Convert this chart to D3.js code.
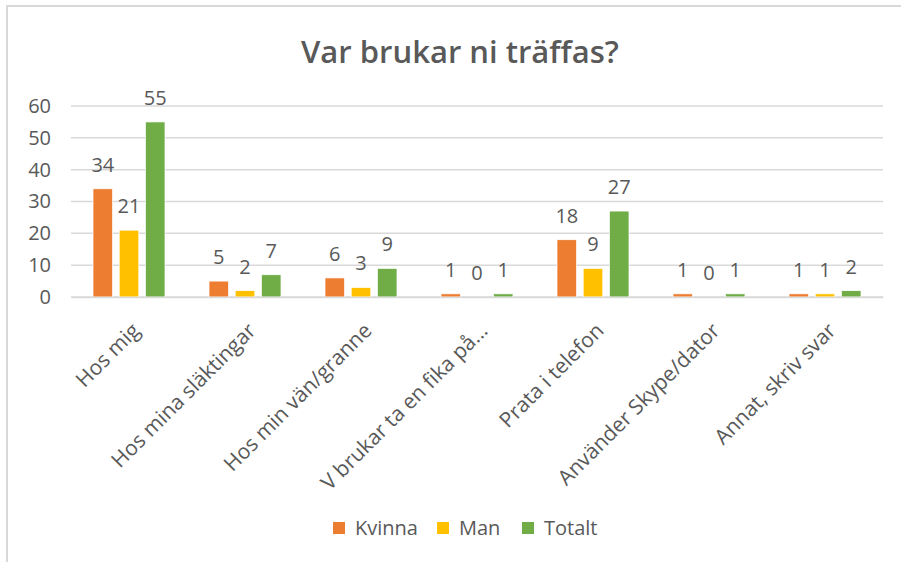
<!DOCTYPE html>
<html>
<head>
<meta charset="utf-8">
<script src="https://cdn.jsdelivr.net/npm/d3@7"></script>
<style>
  body { margin: 0; background: #fff; }
  text { font-family: "Open Sans", sans-serif; fill: #595959; }
</style>
</head>
<body>
<div id="chart"></div>
<script>
var categories = ["Hos mig", "Hos mina släktingar", "Hos min vän/granne", "V brukar ta en fika på...",
    "Prata i telefon", "Använder Skype/dator", "Annat, skriv svar"];
var seriesNames = ["Kvinna", "Man", "Totalt"];
var kvinna = [34, 5, 6, 1, 18, 1, 1];
var man = [21, 2, 3, 0, 9, 0, 1];
var totalt = [55, 7, 9, 1, 27, 1, 2];
var yTicks = [0, 10, 20, 30, 40, 50, 60];
var colors = ["#ED7D31", "#FFC000", "#70AD47"];

var svgWidth = 901, svgHeight = 562;
var plot = {left: 71, right: 883, top: 106, bottom: 297};

var svg = d3.select("#chart")
    .append("svg")
    .attr("width", svgWidth)
    .attr("height", svgHeight);

// chart area border (only top and left visible)
svg.append("rect")
    .attr("x", 7).attr("y", 6)
    .attr("width", 920).attr("height", 580)
    .attr("fill", "none")
    .attr("stroke", "#d9d9d9")
    .attr("stroke-width", 2);

svg.append("text")
    .attr("x", 460).attr("y", 63)
    .attr("text-anchor", "middle")
    .style("font-size", "31px")
    .style("font-weight", "600")
    .text("Var brukar ni träffas?");

var data = categories.map(function (c, i) {
    return {cat: c, values: [kvinna[i], man[i], totalt[i]]};
});

var x0 = d3.scaleBand().domain(categories).range([plot.left, plot.right]);
var x1 = d3.scaleBand().domain(seriesNames).range([-36, 36]).paddingInner(0.25);
var y = d3.scaleLinear().domain([0, 60]).range([plot.bottom, plot.top]);

// gridlines
svg.append("g")
    .selectAll("line")
    .data(yTicks)
    .enter()
    .append("line")
    .attr("x1", plot.left).attr("x2", plot.right)
    .attr("y1", d => y(d)).attr("y2", d => y(d))
    .attr("stroke", "#d9d9d9")
    .attr("stroke-width", 1.5);

var leftAxis = d3.axisLeft(y).tickValues(yTicks).tickSize(0).tickPadding(0);
var yAxisG = svg.append("g")
    .attr("transform", "translate(51,0)")
    .call(leftAxis);
yAxisG.select(".domain").remove();
yAxisG.selectAll("text")
    .style("font-size", "20px")
    .style("font-family", "'Open Sans', sans-serif")
    .attr("fill", "#595959");

var groups = svg.append("g")
    .selectAll("g")
    .data(data)
    .enter()
    .append("g")
    .attr("transform", d => `translate(${x0(d.cat) + x0.bandwidth() / 2},0)`);

groups.selectAll("rect")
    .data(d => d.values.map((v, j) => ({name: seriesNames[j], value: v, idx: j})))
    .enter()
    .append("rect")
    .attr("x", d => x1(d.name))
    .attr("width", x1.bandwidth())
    .attr("y", d => y(d.value))
    .attr("height", d => y(0) - y(d.value))
    .attr("fill", d => colors[d.idx])
    .attr("stroke", "#fff")
    .attr("stroke-width", 0.75);

groups.selectAll("text.label")
    .data(d => d.values.map((v, j) => ({name: seriesNames[j], value: v})))
    .enter()
    .append("text")
    .attr("class", "label")
    .attr("x", d => x1(d.name) + x1.bandwidth() / 2)
    .attr("y", d => y(d.value) - 17)
    .attr("text-anchor", "middle")
    .style("font-size", "20px")
    .text(d => d.value);

// category axis
var bottomAxis = d3.axisBottom(x0).tickSize(0).tickPadding(0);
var xAxisG = svg.append("g")
    .attr("transform", `translate(0,${plot.bottom})`)
    .call(bottomAxis);
xAxisG.select(".domain")
    .attr("stroke", "#d9d9d9")
    .attr("stroke-width", 1.5);
xAxisG.selectAll("text")
    .style("font-size", "21px")
    .style("font-family", "'Open Sans', sans-serif")
    .attr("fill", "#595959")
    .attr("text-anchor", "end")
    .attr("dy", "0")
    .attr("transform", "translate(12,35) rotate(-45)");

// legend
var legendX = [333, 437, 522];
var legend = svg.append("g")
    .selectAll("g")
    .data(seriesNames)
    .enter()
    .append("g")
    .attr("transform", (d, i) => `translate(${legendX[i]},522)`);
legend.append("rect")
    .attr("width", 12).attr("height", 12)
    .attr("fill", (d, i) => colors[i]);
legend.append("text")
    .attr("x", 22).attr("y", 13)
    .style("font-size", "20px")
    .text(d => d);
</script>
</body>
</html>
